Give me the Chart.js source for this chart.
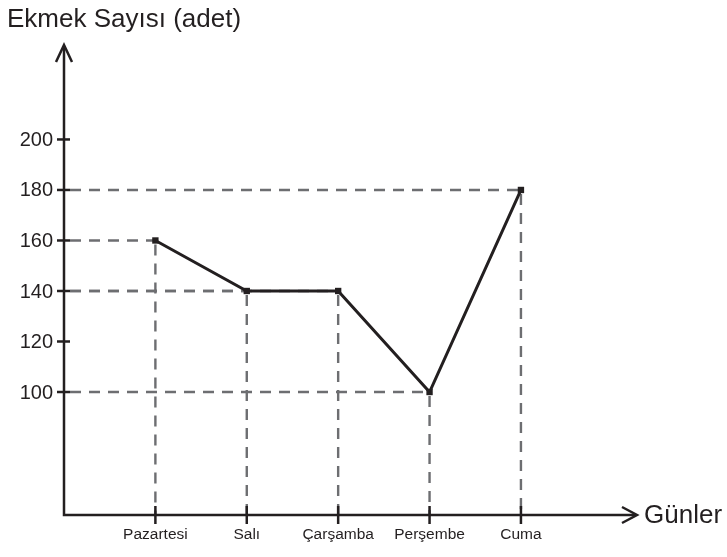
<!DOCTYPE html>
<html>
<head>
<meta charset="utf-8">
<script src="https://cdn.jsdelivr.net/npm/chart.js@4"></script>
<style>
html,body{margin:0;padding:0;background:#fff;}
#wrap{width:727px;height:557px;}
</style>
</head>
<body>
<div id="wrap"><canvas id="c" width="727" height="557"></canvas></div>
<script>
const days = ["Pazartesi", "Salı", "Çarşamba", "Perşembe", "Cuma"];
const breadCounts = [160, 140, 140, 100, 180];
const yTickValues = [100, 120, 140, 160, 180, 200];
const yAxisTitle = "Ekmek Sayısı (adet)";
const xAxisTitle = "Günler";

const INK = "#231f20";
const DASH = "#6d6e71";
const FONT = "'Liberation Sans', Arial, sans-serif";

const points = days.map((d, i) => ({ x: i + 1, y: breadCounts[i] }));

const axesPlugin = {
  id: 'axesPlugin',
  beforeDatasetsDraw(chart) {
    const ctx = chart.ctx;
    const xs = chart.scales.x, ys = chart.scales.y;
    const x0 = xs.getPixelForValue(xs.min);
    const y0 = ys.getPixelForValue(ys.min);
    ctx.save();
    ctx.strokeStyle = DASH;
    ctx.lineWidth = 2.4;
    ctx.setLineDash([11, 8]);
    points.forEach(p => {
      const px = xs.getPixelForValue(p.x), py = ys.getPixelForValue(p.y);
      ctx.beginPath();
      ctx.moveTo(x0 + 6, py);
      ctx.lineTo(px, py);
      ctx.stroke();
      ctx.beginPath();
      ctx.moveTo(px, py + 4);
      ctx.lineTo(px, y0);
      ctx.stroke();
    });
    ctx.restore();
  },
  afterDatasetsDraw(chart) {
    const ctx = chart.ctx;
    const xs = chart.scales.x, ys = chart.scales.y;
    const x0 = xs.getPixelForValue(xs.min);
    const y0 = ys.getPixelForValue(ys.min);
    const xEnd = xs.getPixelForValue(xs.max);
    const yTop = ys.getPixelForValue(ys.max);
    ctx.save();
    ctx.strokeStyle = INK;
    ctx.fillStyle = INK;
    ctx.lineWidth = 2.5;
    ctx.lineCap = 'butt';
    // axes
    ctx.beginPath();
    ctx.moveTo(x0, yTop + 1);
    ctx.lineTo(x0, y0);
    ctx.lineTo(xEnd - 1, y0);
    ctx.stroke();
    // arrow heads
    ctx.lineJoin = 'miter';
    ctx.beginPath();
    ctx.moveTo(x0 - 8, yTop + 17);
    ctx.lineTo(x0, yTop);
    ctx.lineTo(x0 + 8, yTop + 17);
    ctx.stroke();
    ctx.beginPath();
    ctx.moveTo(xEnd - 15, y0 - 8);
    ctx.lineTo(xEnd, y0);
    ctx.lineTo(xEnd - 15, y0 + 8);
    ctx.stroke();
    // y ticks + labels
    ctx.font = "20px " + FONT;
    ctx.textAlign = 'right';
    ctx.textBaseline = 'middle';
    yTickValues.forEach(v => {
      const py = ys.getPixelForValue(v);
      ctx.beginPath();
      ctx.moveTo(x0 - 7, py);
      ctx.lineTo(x0 + 6, py);
      ctx.stroke();
      ctx.fillText(String(v), x0 - 11, py + 1);
    });
    // x ticks + labels
    ctx.font = "15.5px " + FONT;
    ctx.textAlign = 'center';
    ctx.textBaseline = 'top';
    days.forEach((d, i) => {
      const px = xs.getPixelForValue(i + 1);
      ctx.beginPath();
      ctx.moveTo(px, y0 - 9);
      ctx.lineTo(px, y0 + 9);
      ctx.stroke();
      ctx.fillText(d, px, y0 + 12);
    });
    // titles
    ctx.font = "26px " + FONT;
    ctx.textAlign = 'left';
    ctx.textBaseline = 'alphabetic';
    ctx.fillText(yAxisTitle, 7, 27);
    ctx.font = "26px " + FONT;
    ctx.textBaseline = 'middle';
    ctx.fillText(xAxisTitle, xEnd + 7, y0 + 1);
    ctx.restore();
  }
};

new Chart(document.getElementById('c'), {
  type: 'line',
  data: {
    datasets: [{
      data: points,
      borderColor: INK,
      borderWidth: 3,
      pointStyle: 'rect',
      pointRadius: 4.5,
      pointBackgroundColor: INK,
      pointBorderColor: INK,
      pointBorderWidth: 0,
      tension: 0,
      fill: false
    }]
  },
  options: {
    responsive: false,
    animation: false,
    events: [],
    layout: { padding: { left: 64, right: 90, top: 45, bottom: 42 } },
    plugins: { legend: { display: false }, tooltip: { enabled: false } },
    scales: {
      x: { type: 'linear', min: 0, max: 6.27, display: false },
      y: { type: 'linear', min: 51.3, max: 237.4, display: false }
    }
  },
  plugins: [axesPlugin]
});
</script>
</body>
</html>
